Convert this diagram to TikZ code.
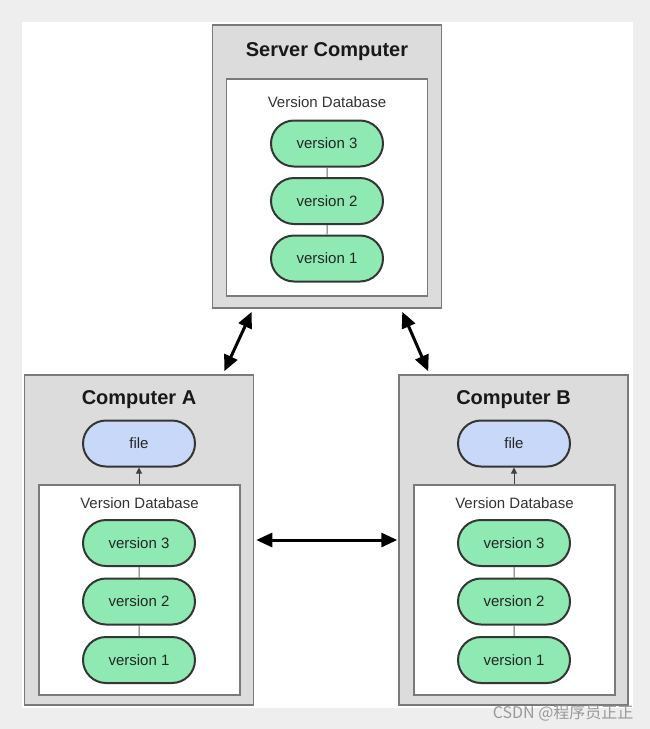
\documentclass[tikz,border=0pt]{standalone}
\usepackage{fontspec}
\setsansfont{Liberation Sans}
\newfontfamily\cjkfont{Noto Sans CJK SC}
\usepackage{tikz}
\usetikzlibrary{arrows.meta,shapes.misc}
\definecolor{pagegray}{HTML}{EEEEEE}
\definecolor{boxgray}{HTML}{DCDCDC}
\definecolor{boxline}{HTML}{7A7A7A}
\definecolor{pillgreen}{HTML}{8EEAB2}
\definecolor{pillblue}{HTML}{C8D8F8}
\definecolor{pillline}{HTML}{353535}

\begin{document}
\begin{tikzpicture}[x=1pt,y=-1pt,
   font=\sffamily,
   computer/.style={draw=boxline,fill=boxgray,line width=1.5pt,minimum width=229pt,inner sep=0pt},
   database/.style={draw=boxline,fill=white,line width=1.5pt,minimum width=201pt,inner sep=0pt},
   title/.style={font=\sffamily\bfseries\fontsize{20}{24}\selectfont,text=black!90},
   dblabel/.style={font=\sffamily\fontsize{15}{18}\selectfont,text=black!80},
   version/.style={rounded rectangle,draw=pillline,fill=pillgreen,line width=2pt,minimum width=112pt,minimum height=46pt,inner sep=0pt,font=\sffamily\fontsize{15}{18}\selectfont,text=black!85},
   file/.style={version,fill=pillblue},
   chain/.style={draw=black!60,line width=1pt},
   fetch/.style={-{Triangle[length=6pt,width=6pt]},line width=1pt,draw=black!75,fill=black!75},
   sync/.style={{Triangle[length=16pt,width=14pt]}-{Triangle[length=16pt,width=14pt]},line width=3pt}]
\useasboundingbox (0,0) rectangle (650,729);
\fill[pagegray] (0,0) rectangle (650,729);
\fill[white] (22,22) rectangle (633,708);

\node[computer,minimum height=283pt] (server) at (327,166.5) {};
\node[title] (servertitle) at (327,52) {Server Computer};
\node[database,minimum height=217pt] (serverdb) at (327,187.5) {};
\node[dblabel] (serverdblabel) at (327,102) {Version Database};
\node[version] (sv3) at (327,143.5) {version 3};
\node[version] (sv2) at (327,201) {version 2};
\node[version] (sv1) at (327,258.5) {version 1};
\draw[chain] (sv3) -- (sv2);
\draw[chain] (sv2) -- (sv1);

\node[computer,minimum height=330pt] (compA) at (139,540) {};
\node[title] (titleA) at (139,400) {Computer A};
\node[file] (fileA) at (139,443.5) {file};
\node[database,minimum height=210pt] (dbA) at (139.5,590) {};
\node[dblabel] (dblabelA) at (139.5,503) {Version Database};
\node[version] (av3) at (139,543) {version 3};
\node[version] (av2) at (139,601.5) {version 2};
\node[version] (av1) at (139,660) {version 1};
\draw[chain] (av3) -- (av2);
\draw[chain] (av2) -- (av1);
\draw[fetch] (dbA.north -| fileA.south) -- (fileA.south);

\node[computer,minimum height=330pt] (compB) at (513.5,540) {};
\node[title] (titleB) at (513.5,400) {Computer B};
\node[file] (fileB) at (514,443.5) {file};
\node[database,minimum height=210pt] (dbB) at (514.5,590) {};
\node[dblabel] (dblabelB) at (514.5,503) {Version Database};
\node[version] (bv3) at (514,543) {version 3};
\node[version] (bv2) at (514,601.5) {version 2};
\node[version] (bv1) at (514,660) {version 1};
\draw[chain] (bv3) -- (bv2);
\draw[chain] (bv2) -- (bv1);
\draw[fetch] (dbB.north -| fileB.south) -- (fileB.south);

\draw[sync] ([xshift=40pt,yshift=-3pt]server.south west) -- ([xshift=-30pt,yshift=3pt]compA.north east);
\draw[sync] ([xshift=-40pt,yshift=-3pt]server.south east) -- ([xshift=30pt,yshift=3pt]compB.north west);
\draw[sync] ([xshift=2pt]compA.east) -- ([xshift=-1pt]compB.west);

\node[anchor=east,text=black!40,font=\cjkfont\fontsize{16}{18}\selectfont] (mark) at (637,713) {CSDN @程序员正正};
\end{tikzpicture}
\end{document}
